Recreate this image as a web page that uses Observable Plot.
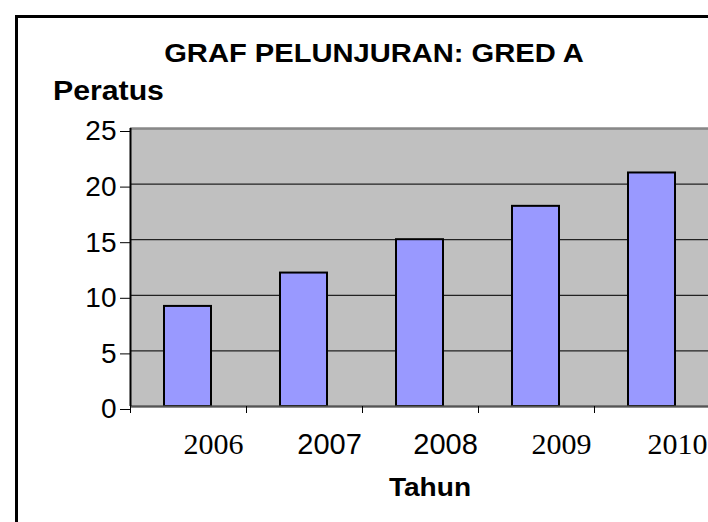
<!DOCTYPE html>
<html>
<head>
<meta charset="utf-8">
<script src="https://cdn.jsdelivr.net/npm/d3@7"></script>
<script src="https://cdn.jsdelivr.net/npm/@observablehq/plot@0.6"></script>
<style>
  html, body { margin: 0; padding: 0; background: #fff; overflow: hidden; }
  #wrap { position: relative; width: 708px; height: 522px; overflow: hidden; }
  #frame { position: absolute; left: 15px; top: 15px; width: 900px; height: 900px;
           border-left: 3px solid #000; border-top: 3px solid #000; box-sizing: border-box; }
  .lbl { position: absolute; font-family: "Liberation Sans", Arial, sans-serif; font-weight: bold;
         color: #000; white-space: nowrap; margin: 0; }
  #title { font-size: 26px; line-height: 26px; top: 40px; left: 374px; transform: translateX(-50%) scaleX(1.12); }
  #ylab { font-size: 27px; line-height: 27px; top: 78px; left: 53px; transform-origin: left top; transform: scaleX(1.12); }
  #xlab { font-size: 26px; line-height: 26px; top: 474px; left: 430px; transform: translateX(-50%) scaleX(1.08); }
  svg { position: absolute; left: 0; top: 0; }
</style>
</head>
<body>
<div id="wrap">
  <div id="frame"></div>
  <div class="lbl" id="title">GRAF PELUNJURAN: GRED A</div>
  <div class="lbl" id="ylab">Peratus</div>
  <div class="lbl" id="xlab">Tahun</div>
</div>
<script>
// Data
const years = ["2006", "2007", "2008", "2009", "2010"];
const values = [9, 12, 15, 18, 21];
const yTicks = [0, 5, 10, 15, 20, 25];

// Style: font used for each year label in the reference
const serifYears = ["2006", "2009", "2010"];

const data = years.map((year, i) => ({ year, i, value: values[i] }));
const boundaries = d3.range(years.length + 1);

const chart = Plot.plot({
  width: 708,
  height: 522,
  marginLeft: 130,
  marginTop: 128,
  marginBottom: 116,
  marginRight: 0,
  x: { type: "linear", domain: [0, years.length], range: [130, 710], label: null },
  y: { domain: [0, 25], label: null },
  style: { fontFamily: "'Liberation Sans', Arial, sans-serif", fontSize: "28px", color: "black", background: "transparent", overflow: "visible" },
  marks: [
    Plot.frame({ fill: "#c0c0c0", stroke: null }),
    Plot.gridY(yTicks, { stroke: "#222", strokeOpacity: 1, strokeWidth: 1.3 }),
    Plot.ruleY([25], { stroke: "#888", strokeWidth: 2 }),
    Plot.rectY(data, {
      x1: "i", x2: d => d.i + 1, y: "value",
      insetLeft: 34, insetRight: 35,
      fill: "#9999ff", stroke: "black", strokeWidth: 2
    }),
    Plot.ruleY([0], { stroke: "#555", strokeWidth: 2 }),
    Plot.ruleX([0], { stroke: "black", strokeWidth: 2 }),
    Plot.axisY(yTicks, { tickSize: 10, tickPadding: 4, fontSize: 28, dy: 3, stroke: "black", label: null }),
    Plot.axisX(boundaries, { tickSize: 7, tickFormat: () => "", stroke: "black", label: null }),
    Plot.text(data.filter(d => serifYears.includes(d.year)), {
      x: d => d.i + 0.5, text: "year", frameAnchor: "bottom", lineAnchor: "middle",
      dy: 38, dx: 25, fontFamily: "'Liberation Serif', 'Times New Roman', serif", fontSize: 30, fill: "black"
    }),
    Plot.text(data.filter(d => !serifYears.includes(d.year)), {
      x: d => d.i + 0.5, text: "year", frameAnchor: "bottom", lineAnchor: "middle",
      dy: 38, dx: 25, fontFamily: "'Liberation Sans', Arial, sans-serif", fontSize: 29, fill: "black"
    })
  ]
});
document.getElementById("wrap").insertBefore(chart, document.getElementById("title"));
</script>
</body>
</html>
